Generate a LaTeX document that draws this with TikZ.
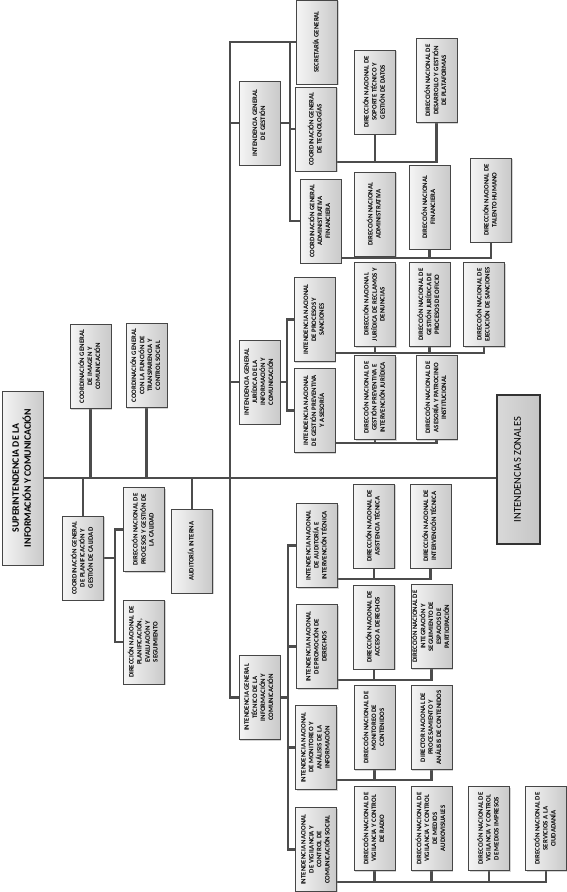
\documentclass[tikz,border=0pt]{standalone}
\usepackage{fontspec}
\setmainfont{Carlito}
\usetikzlibrary{shadows,backgrounds}
\newcommand\vt[1]{\rotatebox{90}{\begin{tabular}{@{}c@{}}#1\end{tabular}}}
\tikzset{
  box/.style={draw=gray!55!black, line width=0.5pt, left color=gray!8, right color=gray!42,
    inner sep=0pt, minimum width=41pt, minimum height=84pt,
    font=\bfseries\fontsize{6.8}{7.9}\selectfont,
    drop shadow={opacity=0.35, shadow xshift=1.2pt, shadow yshift=-1.2pt}},
  conn/.style={draw=gray!60!black, line width=2.2pt},
}
\begin{document}
\begin{tikzpicture}[x=1pt,y=-1pt]
\useasboundingbox (0,0) rectangle (567,892);
% ---- top level
\node[box, minimum height=174pt, line width=0.8pt, font=\bfseries\fontsize{9.8}{12}\selectfont] (sup) at (22.5,478) {\vt{SUPERINTENDENCIA DE LA\\INFORMACIÓN Y COMUNICACIÓN}};
\node[box] (cgimg) at (90.5,366.5) {\vt{COORDINACIÓN GENERAL\\DE IMAGEN Y\\COMUNICACIÓN}};
\node[box] (cgtra) at (146.5,365.5) {\vt{COORDINACIÓN GENERAL\\CON LA FUNCIÓN DE\\TRANSPARENCIA Y\\CONTROL SOCIAL}};
\node[box] (cgpla) at (83,558) {\vt{COORDINACIÓN GENERAL\\DE PLANIFICACIÓN Y\\GESTIÓN DE CALIDAD}};
\node[box] (dnpcal) at (144,529.5) {\vt{DIRECCIÓN NACIONAL DE\\PROCESOS Y GESTIÓN DE\\LA CALIDAD}};
\node[box] (dnplan) at (144,642) {\vt{DIRECCIÓN NACIONAL DE\\PLANIFICACIÓN,\\EVALUACIÓN Y\\SEGUIMIENTO}};
\node[box] (audi) at (192,551) {\vt{AUDITORÍA INTERNA}};
\node[box, minimum width=43pt, minimum height=149pt, draw=gray!40!black, line width=2pt,
  left color=gray!30, right color=gray!45, font=\fontsize{10.5}{12}\selectfont] (iz) at (518.5,469.5) {\vt{INTENDENCIAS ZONALES}};
% ---- gestion
\node[box] (iggest) at (259.5,123) {\vt{INTENDENCIA GENERAL\\DE GESTIÓN}};
\node[box] (secg) at (317,42) {\vt{SECRETARÍA GENERAL}};
\node[box] (cgtec) at (316,129) {\vt{COORDINACIÓN GENERAL\\DE TECNOLOGÍAS}};
\node[box] (cgadm) at (320.5,221) {\vt{COORDINACIÓN GENERAL\\ADMINISTRATIVA\\FINANCIERA}};
\node[box] (dnsop) at (375,92) {\vt{DIRECCIÓN NACIONAL DE\\SOPORTE TÉCNICO Y\\GESTIÓN DE DATOS}};
\node[box] (dndes) at (436.5,80.5) {\vt{DIRECCIÓN NACIONAL DE\\DESARROLLO Y GESTIÓN\\DE PLATAFORMAS}};
\node[box] (dnadm) at (375,214) {\vt{DIRECCIÓN NACIONAL\\ADMINISTRATIVA}};
\node[box] (dnfin) at (429.5,207) {\vt{DIRECCIÓN NACIONAL\\FINANCIERA}};
\node[box] (dntal) at (491,200) {\vt{DIRECCIÓN NACIONAL DE\\TALENTO HUMANO}};
% ---- juridica
\node[box] (igjur) at (259.5,382) {\vt{INTENDENCIA GENERAL\\JURÍDICA DE LA\\INFORMACIÓN Y\\COMUNICACIÓN}};
\node[box] (inproc) at (314.5,319.5) {\vt{INTENDENCIA NACIONAL\\DE PROCESOS Y\\SANCIONES}};
\node[box] (ingp) at (314.5,410.5) {\vt{INTENDENCIA NACIONAL\\DE GESTIÓN PREVENTIVA\\Y ASESORÍA}};
\node[box] (dnrec) at (375,304.5) {\vt{DIRECCIÓN NACIONAL\\JURÍDICA DE RECLAMOS Y\\DENUNCIAS}};
\node[box] (dnofi) at (429.5,304.5) {\vt{DIRECCIÓN NACIONAL DE\\GESTIÓN JURÍDICA DE\\PROCESOS DE OFICIO}};
\node[box] (dnsan) at (484,304.5) {\vt{DIRECCIÓN NACIONAL DE\\EJECUCIÓN DE SANCIONES}};
\node[box] (dngp) at (375,397.5) {\vt{DIRECCIÓN NACIONAL DE\\GESTIÓN PREVENTIVA E\\INTERVENCIÓN JURÍDICA}};
\node[box] (dnase) at (436.5,397.5) {\vt{DIRECCIÓN NACIONAL DE\\ASESORÍA Y PATROCINIO\\INSTITUCIONAL}};
% ---- tecnico
\node[box] (igtec) at (259.5,697.5) {\vt{INTENDENCIA GENERAL\\TÉCNICO DE LA\\INFORMACIÓN Y\\COMUNICACIÓN}};
\node[box] (inaud) at (317,545.5) {\vt{INTENDENCIA NACIONAL\\DE AUDITORÍA E\\INTERVENCIÓN TÉCNICA}};
\node[box] (inpro) at (317,646.5) {\vt{INTENDENCIA NACIONAL\\DE PROMOCIÓN DE\\DERECHOS}};
\node[box] (inmon) at (316,747.5) {\vt{INTENDENCIA NACIONAL\\DE MONITOREO Y\\ANÁLISIS DE LA\\INFORMACIÓN}};
\node[box] (invig) at (316,849.5) {\vt{INTENDENCIA NACIONAL\\DE VIGILANCIA Y\\CONTROL DE\\COMUNICACIÓN SOCIAL}};
\node[box] (dnasi) at (374,526) {\vt{DIRECCIÓN NACIONAL DE\\ASISTENCIA TÉCNICA}};
\node[box] (dnint) at (430.5,526) {\vt{DIRECCIÓN NACIONAL DE\\INTERVENCIÓN TÉCNICA}};
\node[box] (dnacc) at (374,627) {\vt{DIRECCIÓN NACIONAL DE\\ACCESO A DERECHOS}};
\node[box] (dnitg) at (431.5,626.5) {\vt{DIRECCIÓN NACIONAL DE\\INTEGRACIÓN Y\\SEGUIMIENTO DE\\ESPACIOS DE\\PARTICIPACIÓN}};
\node[box] (dnmon) at (374.5,727.5) {\vt{DIRECCIÓN NACIONAL DE\\MONITOREO DE\\CONTENIDOS}};
\node[box] (dnpro) at (431.5,727.5) {\vt{DIRECTOR NACIONAL DE\\PROCESAMIENTO Y\\ANÁLISIS DE CONTENIDOS}};
\node[box] (dnrad) at (374.5,828.5) {\vt{DIRECCIÓN NACIONAL DE\\VIGILANCIA Y CONTROL\\DE RADIO}};
\node[box] (dnaud) at (431.5,828.5) {\vt{DIRECCIÓN NACIONAL DE\\VIGILANCIA Y CONTROL\\DE MEDIOS\\AUDIOVISUALES}};
\node[box] (dnimp) at (489,828.5) {\vt{DIRECCIÓN NACIONAL DE\\VIGILANCIA Y CONTROL\\DE MEDIOS IMPRESOS}};
\node[box] (dnser) at (546,828.5) {\vt{DIRECCIÓN NACIONAL DE\\SERVICIOS A LA\\CIUDADANÍA}};
% ---- connectors
\coordinate (tx) at (230,0);
\coordinate (gx) at (290,0);
\coordinate (jx) at (287,0);
\coordinate (kx) at (288,0);
\coordinate (px) at (115,0);
\coordinate (ty1) at (0,162);
\coordinate (ty2) at (0,258);
\coordinate (jy1) at (0,353);
\coordinate (jy2) at (0,443);
\coordinate (ky1) at (0,579);
\coordinate (ky2) at (0,680);
\coordinate (ky3) at (0,780);
\coordinate (ky4) at (0,882);
\begin{scope}[on background layer]
\draw[conn] (sup.east) -- (sup.east -| iz.west);
\draw[conn] (cgimg.south) -- (cgimg.south |- sup.east);
\draw[conn] (cgtra.south) -- (cgtra.south |- sup.east);
\draw[conn] (cgpla.north) -- (cgpla.north |- sup.east);
\draw[conn] (audi.north) -- (audi.north |- sup.east);
\draw[conn] (cgpla.east) -- (cgpla.east -| px);
\draw[conn] (dnpcal.west) -- (dnpcal.west -| px) -- (px |- dnplan.west) -- (dnplan.west);
% trunk
\draw[conn] (secg.west) -- (secg.west -| tx) -- (tx |- igtec.west) -- (igtec.west);
\draw[conn] (iggest.west) -- (iggest.west -| tx);
\draw[conn] (igjur.west) -- (igjur.west -| tx);
% gestion
\draw[conn] (iggest.east) -- (iggest.east -| gx);
\draw[conn] (secg.west -| gx) -- (gx |- cgadm.west) -- (cgadm.west);
\draw[conn] (cgtec.west -| gx) -- (cgtec.west);
\draw[conn] (cgtec.east |- ty1) -- (dndes.south |- ty1) -- (dndes.south);
\draw[conn] (dnsop.south) -- (dnsop.south |- ty1);
\draw[conn] (cgadm.east |- ty2) -- (dntal.south |- ty2) -- (dntal.south);
\draw[conn] (dnadm.south) -- (dnadm.south |- ty2);
\draw[conn] (dnfin.south) -- (dnfin.south |- ty2);
% juridica
\draw[conn] (igjur.east) -- (igjur.east -| jx);
\draw[conn] (inproc.west) -- (inproc.west -| jx) -- (jx |- ingp.west) -- (ingp.west);
\draw[conn] (inproc.east |- jy1) -- (dnsan.south |- jy1) -- (dnsan.south);
\draw[conn] (dnrec.south) -- (dnrec.south |- jy1);
\draw[conn] (dnofi.south) -- (dnofi.south |- jy1);
\draw[conn] (ingp.east |- jy2) -- (dnase.south |- jy2) -- (dnase.south);
\draw[conn] (dngp.south) -- (dngp.south |- jy2);
% tecnico
\draw[conn] (igtec.east) -- (igtec.east -| kx);
\draw[conn] (inaud.west) -- (inaud.west -| kx) -- (kx |- invig.west) -- (invig.west);
\draw[conn] (inpro.west -| kx) -- (inpro.west);
\draw[conn] (inmon.west -| kx) -- (inmon.west);
\draw[conn] (inaud.east |- ky1) -- (dnint.south |- ky1) -- (dnint.south);
\draw[conn] (dnasi.south) -- (dnasi.south |- ky1);
\draw[conn] (inpro.east |- ky2) -- (dnitg.south |- ky2) -- (dnitg.south);
\draw[conn] (dnacc.south) -- (dnacc.south |- ky2);
\draw[conn] (inmon.east |- ky3) -- (dnpro.south |- ky3) -- (dnpro.south);
\draw[conn] (dnmon.south) -- (dnmon.south |- ky3);
\draw[conn] (invig.east |- ky4) -- (dnser.south |- ky4) -- (dnser.south);
\draw[conn] (dnrad.south) -- (dnrad.south |- ky4);
\draw[conn] (dnaud.south) -- (dnaud.south |- ky4);
\draw[conn] (dnimp.south) -- (dnimp.south |- ky4);
\end{scope}
\end{tikzpicture}
\end{document}
